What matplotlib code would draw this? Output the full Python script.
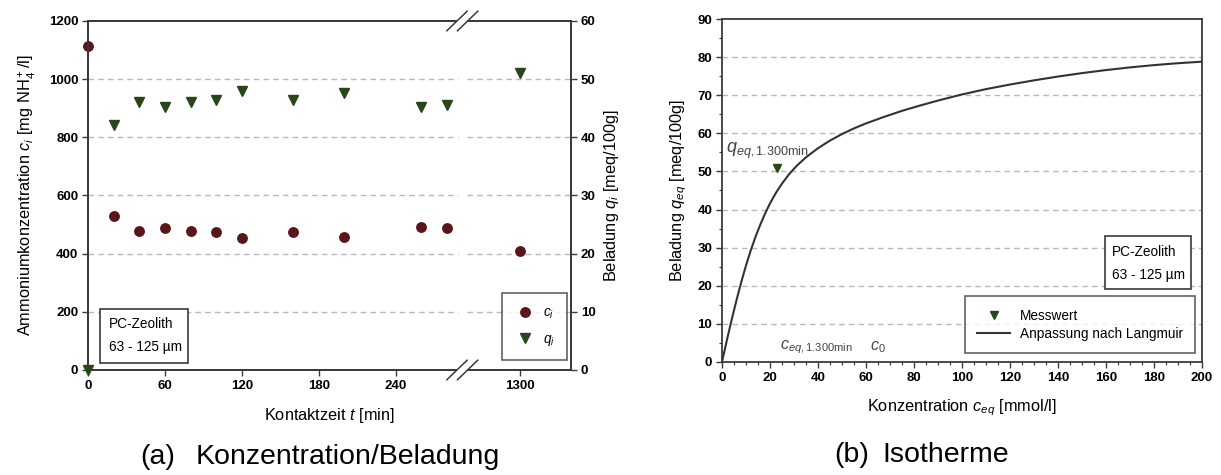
import numpy as np
import matplotlib
matplotlib.use("Agg")
import matplotlib.pyplot as plt
from matplotlib.lines import Line2D
from matplotlib.patches import Rectangle, Polygon
from matplotlib.ticker import MultipleLocator

plt.rcParams["font.family"] = ["Liberation Sans", "DejaVu Sans"]
plt.rcParams["mathtext.fontset"] = "custom"
plt.rcParams["mathtext.rm"] = "Liberation Sans"
plt.rcParams["mathtext.it"] = "Liberation Sans:italic"
plt.rcParams["mathtext.bf"] = "Liberation Sans:bold"

# ---- kinetics: concentration and loading over contact time ----
t_min = [0, 20, 40, 60, 80, 100, 120, 160, 200, 260, 280, 1300]
c_i = [1115, 529, 479, 489, 479, 473, 455, 473, 458, 493, 489, 410]
q_i = [0, 42.1, 46.0, 45.2, 46.0, 46.5, 48.0, 46.5, 47.7, 45.2, 45.5, 51.0]
time_ticks = [0, 60, 120, 180, 240, 1300]
c_ticks = [0, 200, 400, 600, 800, 1000, 1200]
q_ticks = [0, 10, 20, 30, 40, 50, 60]

# ---- isotherm: measured point and Langmuir fit ----
c_meas = [22.8]
q_meas = [51.0]
c_fit = [0, 2, 4, 6, 8, 10, 12, 14, 16, 18, 20, 22.5, 25, 28, 31, 35, 40,
         45, 50, 55, 60, 67, 75, 82, 90, 100, 110, 120, 130, 140, 150, 160,
         170, 180, 190, 200]
q_fit = [0, 5.6, 11.0, 16.1, 20.9, 25.3, 29.3, 32.9, 36.1, 39.0, 41.6, 44.4,
         46.8, 49.3, 51.4, 53.7, 56.1, 58.1, 59.8, 61.3, 62.6, 64.2, 65.9,
         67.2, 68.6, 70.2, 71.6, 72.8, 73.9, 74.9, 75.8, 76.6, 77.3, 77.9,
         78.4, 78.8]

MAROON = "#5a1519"
GREEN = "#27471a"
SPINE = "#3a3a3a"
GRID = "#b8b8b8"
TICK_FS = 9.5
LABEL_FS = 11.8
BOX_FS = 9.8
TITLE_FS = 20.5

fig = plt.figure(figsize=(12.21, 4.75), dpi=100)

# ================= panel (a) =================
ax = fig.add_axes([0.0721, 0.2211, 0.3955, 0.7347])
ax2 = ax.twinx()

# time axis with a break between 290 min and the final sample
BREAK = 290.0
SQUEEZE = 47.0 / 1010.0


def fwd(t):
    t = np.asarray(t, dtype=float)
    return np.where(t <= BREAK, t, BREAK + (t - BREAK) * SQUEEZE)


def inv(x):
    x = np.asarray(x, dtype=float)
    return np.where(x <= BREAK, x, BREAK + (x - BREAK) / SQUEEZE)


ax.set_xscale("function", functions=(fwd, inv))
ax.set_xlim(0, float(inv(376.6)))
ax.set_ylim(0, 1200)
ax2.set_ylim(0, 60)
ax.set_xticks(time_ticks)
ax.set_xticklabels([str(v) for v in time_ticks])
ax.set_yticks(c_ticks)
ax2.set_yticks(q_ticks)

for a in (ax, ax2):
    for s in a.spines.values():
        s.set_color(SPINE)
        s.set_linewidth(1.3)
ax.tick_params(axis="both", labelsize=TICK_FS, length=4, width=1, color=SPINE, pad=3)
ax2.tick_params(axis="y", labelsize=TICK_FS, length=4, width=1, color=SPINE, pad=3)

gap_l, gap_r = 0.767, 0.785
for v in c_ticks[1:-1]:
    ax.axhline(v, xmin=0, xmax=gap_l, color=GRID, lw=1.0, ls=(0, (4, 3)), zorder=0)
    ax.axhline(v, xmin=gap_r, xmax=1, color=GRID, lw=1.0, ls=(0, (4, 3)), zorder=0)

ax.plot(t_min, c_i, ls="none", marker="o", ms=6.8, color=MAROON, clip_on=False, zorder=4)
ax2.plot(t_min, q_i, ls="none", marker="v", ms=7.2, color=GREEN, clip_on=False, zorder=4)

# break marks on top and bottom spines
for yc in (1.0, 0.0):
    xc = 0.775
    dx, dy, off = 0.021, 0.028, 0.011
    poly = Polygon([[xc - off - dx, yc - dy], [xc - off + dx, yc + dy],
                    [xc + off + dx, yc + dy], [xc + off - dx, yc - dy]],
                   closed=True, transform=ax2.transAxes, facecolor="white",
                   edgecolor="none", clip_on=False, zorder=6)
    ax2.add_patch(poly)
    for o in (-off, off):
        ax2.add_line(Line2D([xc + o - dx, xc + o + dx], [yc - dy, yc + dy],
                            transform=ax2.transAxes, color=SPINE, lw=1.1,
                            clip_on=False, zorder=7))

ax.set_xlabel("Kontaktzeit $t$ [min]", fontsize=LABEL_FS, labelpad=10)
ax.set_ylabel(r"Ammoniumkonzentration $c_i$ [mg NH$_4^+$/l]", fontsize=LABEL_FS, labelpad=8)
ax2.set_ylabel(r"Beladung $q_i$ [meq/100g]", fontsize=LABEL_FS, labelpad=5)

for lab in ax.get_xticklabels() + ax.get_yticklabels() + ax2.get_yticklabels():
    lab.set_fontweight("bold")

# sample description box
ax2.add_patch(Rectangle((0.0248, 0.020), 0.182, 0.155, transform=ax2.transAxes,
                        facecolor="white", edgecolor=SPINE, lw=1.2, zorder=5))
ax2.text(0.044, 0.133, "PC-Zeolith", transform=ax2.transAxes, fontsize=BOX_FS,
         va="center", ha="left", zorder=6)
ax2.text(0.044, 0.066, "63 - 125 µm", transform=ax2.transAxes, fontsize=BOX_FS,
         va="center", ha="left", zorder=6)

handles_a = [Line2D([], [], ls="none", marker="o", ms=6.8, color=MAROON),
             Line2D([], [], ls="none", marker="v", ms=7.2, color=GREEN)]
leg = ax2.legend(handles_a, ["$c_i$", "$q_i$"], loc="lower right",
                 bbox_to_anchor=(0.992, 0.029), fontsize=BOX_FS, frameon=True,
                 fancybox=False, edgecolor=SPINE, borderpad=0.9,
                 handlelength=1.6, handletextpad=0.5, labelspacing=0.8,
                 borderaxespad=0)
leg.get_frame().set_linewidth(1.2)
leg.set_zorder(8)

fig.text(0.1151, 0.037, "(a)", fontsize=TITLE_FS, ha="left", va="center")
fig.text(0.1605, 0.037, "Konzentration/Beladung", fontsize=TITLE_FS,
         ha="left", va="center")

# ================= panel (b) =================
bx = fig.add_axes([0.5913, 0.2379, 0.3931, 0.7221])
bx.set_xlim(0, 200)
bx.set_ylim(0, 90)
bx.xaxis.set_major_locator(MultipleLocator(20))
bx.xaxis.set_minor_locator(MultipleLocator(5))
bx.yaxis.set_major_locator(MultipleLocator(10))
bx.yaxis.set_minor_locator(MultipleLocator(5))
for s in bx.spines.values():
    s.set_color(SPINE)
    s.set_linewidth(1.3)
bx.tick_params(which="major", labelsize=TICK_FS, length=4, width=1, color=SPINE, pad=3)
bx.tick_params(which="minor", length=2.5, width=0.8, color=SPINE)
for lab in bx.get_xticklabels() + bx.get_yticklabels():
    lab.set_fontweight("bold")

for v in range(10, 90, 10):
    bx.axhline(v, color=GRID, lw=1.0, ls=(0, (4, 3)), zorder=0)

bx.plot(c_fit, q_fit, color="#333333", lw=1.5, zorder=3,
        label="Anpassung nach Langmuir")
bx.plot(c_meas, q_meas, ls="none", marker="v", ms=6, color=GREEN, zorder=4,
        label="Messwert")

bx.text(1.5, 55.5, r"$q_{eq,\mathrm{1.300min}}$", fontsize=13, color="#444444",
        ha="left", va="center")
bx.text(24.0, 3.8, r"$c_{eq,\mathrm{1.300min}}$", fontsize=11.5, color="#444444",
        ha="left", va="center")
bx.text(61.5, 3.8, r"$c_0$", fontsize=11.5, color="#444444", ha="left", va="center")

bx.set_xlabel(r"Konzentration $c_{eq}$ [mmol/l]", fontsize=LABEL_FS, labelpad=10)
bx.set_ylabel(r"Beladung $q_{eq}$ [meq/100g]", fontsize=LABEL_FS, labelpad=6)

bx.add_patch(Rectangle((0.798, 0.213), 0.179, 0.155, transform=bx.transAxes,
                       facecolor="white", edgecolor=SPINE, lw=1.2, zorder=5))
bx.text(0.813, 0.322, "PC-Zeolith", transform=bx.transAxes, fontsize=BOX_FS,
        va="center", ha="left", zorder=6)
bx.text(0.813, 0.255, "63 - 125 µm", transform=bx.transAxes, fontsize=BOX_FS,
        va="center", ha="left", zorder=6)

h_b, l_b = bx.get_legend_handles_labels()
leg_b = bx.legend([h_b[1], h_b[0]], [l_b[1], l_b[0]], loc="lower right",
                  bbox_to_anchor=(0.985, 0.026), fontsize=BOX_FS, frameon=True,
                  fancybox=False, edgecolor=SPINE, borderpad=0.9,
                  handlelength=2.4, handletextpad=0.7, labelspacing=0.3,
                  borderaxespad=0)
leg_b.get_frame().set_linewidth(1.2)

fig.text(0.683, 0.042, "(b)", fontsize=TITLE_FS, ha="left", va="center")
fig.text(0.723, 0.042, "Isotherme", fontsize=TITLE_FS, ha="left", va="center")

fig.savefig("out.png", dpi=100)
